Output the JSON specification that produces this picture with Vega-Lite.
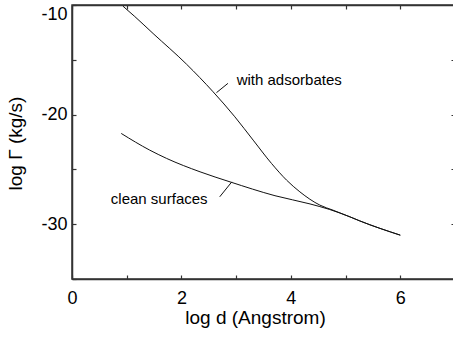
{
  "$schema": "https://vega.github.io/schema/vega-lite/v6.json",
  "width": 383,
  "height": 274,
  "autosize": {"type": "none"},
  "padding": {"left": 72, "top": 5, "right": 0, "bottom": 62},
  "background": "white",
  "config": {
    "view": {"stroke": "#333", "strokeWidth": 1.5},
    "font": "Liberation Sans",
    "axis": {"grid": false, "domainColor": "#333", "domainWidth": 1.5, "tickColor": "#333", "tickWidth": 1.2, "tickSize": -4, "labelColor": "black", "titleColor": "black", "labelFont": "Liberation Sans", "titleFont": "Liberation Sans", "titleFontWeight": "normal"}
  },
  "datasets": {
    "curves": [
      {"series": "clean", "x": 0.90, "y": -21.72},
      {"series": "clean", "x": 1.42, "y": -23.24},
      {"series": "clean", "x": 1.73, "y": -24.0},
      {"series": "clean", "x": 2.34, "y": -25.22},
      {"series": "clean", "x": 2.89, "y": -26.14},
      {"series": "clean", "x": 3.71, "y": -27.4},
      {"series": "clean", "x": 4.35, "y": -28.15},
      {"series": "clean", "x": 4.71, "y": -28.66},
      {"series": "clean", "x": 5.08, "y": -29.33},
      {"series": "clean", "x": 5.26, "y": -29.7},
      {"series": "clean", "x": 6.0, "y": -31.0},
      {"series": "ads", "x": 0.93, "y": -10.1},
      {"series": "ads", "x": 1.147, "y": -11.05},
      {"series": "ads", "x": 1.482, "y": -12.6},
      {"series": "ads", "x": 2.093, "y": -15.4},
      {"series": "ads", "x": 2.579, "y": -17.92},
      {"series": "ads", "x": 2.976, "y": -20.2},
      {"series": "ads", "x": 3.311, "y": -22.33},
      {"series": "ads", "x": 3.647, "y": -24.46},
      {"series": "ads", "x": 3.922, "y": -25.98},
      {"series": "ads", "x": 4.165, "y": -27.05},
      {"series": "ads", "x": 4.531, "y": -28.26},
      {"series": "ads", "x": 4.77, "y": -28.72},
      {"series": "ads", "x": 5.08, "y": -29.33},
      {"series": "ads", "x": 5.26, "y": -29.7},
      {"series": "ads", "x": 6.0, "y": -31.0}
    ],
    "leaders": [
      {"x": 2.64, "y": -18.0, "x2": 2.85, "y2": -17.15},
      {"x": 2.70, "y": -27.5, "x2": 2.92, "y2": -26.14}
    ],
    "labels": [
      {"x": 3.01, "y": -16.85, "text": "with adsorbates"},
      {"x": 0.71, "y": -27.72, "text": "clean surfaces"}
    ]
  },
  "layer": [
    {
      "data": {"name": "curves"},
      "mark": {"type": "line", "color": "#111", "strokeWidth": 1, "interpolate": "monotone"},
      "encoding": {
        "x": {"field": "x", "type": "quantitative", "scale": {"domain": [0, 7], "nice": false, "zero": false},
          "axis": {"orient": "bottom", "values": [0, 1, 2, 3, 4, 5, 6, 7], "labelExpr": "datum.value % 2 === 0 ? '' + datum.value : ''", "labelFontSize": 18, "labelPadding": 14, "labelFlush": false, "title": "log d (Angstrom)", "titleFontSize": 19, "titleX": 183, "titleY": 29, "titleBaseline": "top"}},
        "y": {"field": "y", "type": "quantitative", "scale": {"domain": [-35, -10], "nice": false, "zero": false},
          "axis": {"orient": "left", "values": [-35, -30, -25, -20, -15, -10], "labelExpr": "datum.value % 10 === 0 ? '' + datum.value : ''", "labelFontSize": 18, "labelPadding": 9, "labelFlush": true, "title": "log Γ (kg/s)", "titleFontSize": 19, "titleX": -57, "titleY": 138, "titleBaseline": "middle"}},
        "detail": {"field": "series"}
      }
    },
    {
      "data": {"name": "curves"},
      "mark": {"type": "line", "opacity": 0},
      "encoding": {
        "x": {"field": "x", "type": "quantitative", "axis": {"orient": "top", "values": [0, 1, 2, 3, 4, 5, 6, 7], "labels": false, "title": null}},
        "y": {"field": "y", "type": "quantitative", "axis": {"orient": "right", "values": [-35, -30, -25, -20, -15, -10], "labels": false, "title": null}},
        "detail": {"field": "series"}
      }
    },
    {
      "data": {"name": "leaders"},
      "mark": {"type": "rule", "color": "#111", "strokeWidth": 1},
      "encoding": {
        "x": {"field": "x", "type": "quantitative", "axis": null},
        "y": {"field": "y", "type": "quantitative", "axis": null},
        "x2": {"field": "x2"},
        "y2": {"field": "y2"}
      }
    },
    {
      "data": {"name": "labels"},
      "mark": {"type": "text", "align": "left", "baseline": "middle", "fontSize": 15, "font": "Liberation Sans", "color": "black"},
      "encoding": {
        "x": {"field": "x", "type": "quantitative", "axis": null},
        "y": {"field": "y", "type": "quantitative", "axis": null},
        "text": {"field": "text"}
      }
    }
  ],
  "resolve": {"axis": {"x": "independent", "y": "independent"}}
}
